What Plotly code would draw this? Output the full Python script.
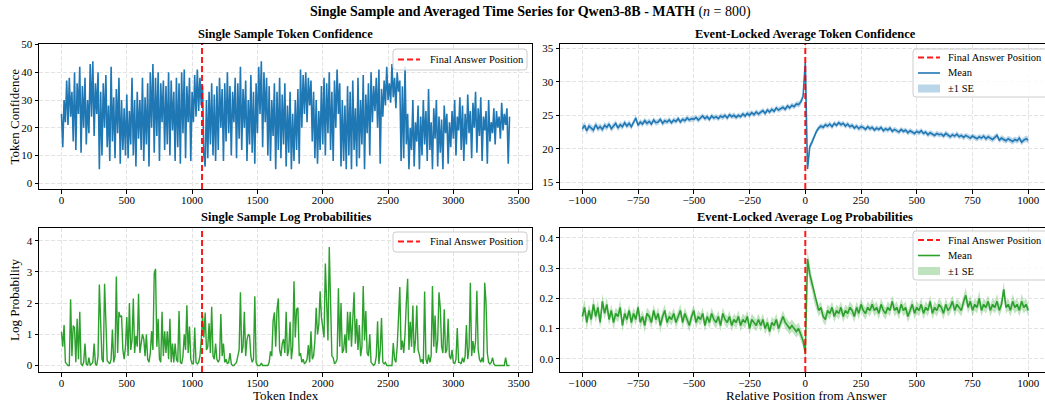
import numpy as np
import plotly.graph_objects as go

# ---------------- data ----------------
FINAL_ANSWER_TOKEN = 1076
FINAL_ANSWER_REL = 0

token_index = list(range(0, 3431, 10))

token_confidence = [
    25, 13, 30, 22, 37, 21, 38, 24, 33, 15,
    40, 12, 36, 25, 42, 11, 35, 20, 38, 14,
    30, 18, 43, 24, 44, 17, 36, 25, 40, 5,
    33, 10, 36, 20, 39, 13, 28, 8, 42, 15,
    31, 9, 34, 18, 38, 7, 30, 12, 27, 10,
    32, 9, 26, 14, 38, 10, 30, 6, 33, 16,
    30, 12, 38, 8, 31, 14, 36, 6, 40, 20,
    43, 11, 38, 17, 40, 8, 36, 22, 37, 12,
    35, 14, 40, 10, 37, 19, 33, 8, 38, 13,
    36, 7, 40, 18, 41, 9, 35, 22, 38, 8,
    33, 22, 39, 24, 41, 26, 38, 28, 35, 10,
    6, 30, 9, 33, 14, 36, 10, 32, 8, 35,
    12, 38, 20, 34, 8, 36, 15, 40, 18, 35,
    10, 33, 22, 38, 9, 36, 16, 42, 12, 34,
    20, 37, 8, 30, 14, 39, 11, 33, 7, 36,
    18, 42, 25, 44, 13, 40, 22, 38, 10, 35,
    8, 30, 17, 36, 5, 33, 12, 38, 9, 32,
    14, 36, 6, 28, 11, 33, 5, 25, 8, 30,
    12, 34, 7, 41, 20, 39, 25, 40, 22, 38,
    28, 37, 15, 33, 9, 30, 7, 26, 12, 35,
    14, 38, 10, 36, 18, 40, 12, 33, 8, 37,
    20, 41, 25, 36, 6, 30, 8, 28, 5, 35,
    10, 33, 5, 37, 12, 27, 6, 38, 9, 30,
    14, 39, 5, 32, 18, 36, 10, 40, 22, 35,
    26, 38, 20, 41, 7, 34, 24, 37, 28, 42,
    30, 36, 29, 43, 31, 38, 27, 40, 33, 37,
    8, 35, 9, 42, 14, 25, 5, 20, 12, 30,
    6, 22, 15, 28, 5, 24, 10, 30, 14, 26,
    8, 34, 12, 22, 5, 27, 16, 30, 6, 24,
    11, 23, 5, 28, 18, 25, 7, 22, 13, 26,
    16, 30, 10, 24, 19, 31, 12, 28, 8, 25,
    14, 32, 18, 26, 9, 29, 20, 33, 11, 27,
    17, 31, 8, 24, 19, 26, 7, 30, 15, 22,
    18, 27, 14, 26, 20, 24, 16, 29, 19, 25,
    21, 27, 7, 24,
]

log_probs = [
    1.08, 0.6, 1.3, 0.1, 0.05, 0.0, 0.0, 2.12, 0.3, 1.28,
    1.2, 0.1, 1.5, 0.2, 1.72, 0.05, 0.0, 0.1, 0.7, 0.05,
    0.0, 0.25, 0.0, 0.05, 0.1, 0.7, 0.05, 0.0, 0.3, 2.6,
    1.3, 0.2, 0.1, 2.62, 1.4, 0.15, 0.1, 0.05, 0.2, 1.15,
    0.1, 0.3, 2.85, 0.4, 1.72, 1.55, 1.6, 0.5, 0.2, 0.6,
    1.55, 0.3, 2.0, 0.5, 0.8, 2.15, 0.4, 0.95, 0.6, 2.3,
    0.4,
    0.7, 1.0, 0.85, 0.3, 1.0, 0.2, 0.1, 0.4, 1.1, 0.5,
    2.95, 3.1, 0.6, 1.5, 0.2, 0.1, 1.72, 0.3, 1.1, 0.4,
    1.1, 0.2, 1.5, 0.1, 0.7, 0.1, 0.7, 0.2, 0.1, 1.75,
    0.1, 0.05, 0.3, 1.0, 0.5, 1.93, 0.4, 1.25, 0.2, 0.05,
    0.05, 1.22, 0.1, 0.05, 0.1, 0.3, 0.8, 1.6, 0.9, 1.7,
    0.5, 0.6, 1.35, 0.4, 1.88, 0.3, 0.2, 0.7, 0.2, 0.1,
    0.2,
    1.65, 0.3, 0.7, 0.1, 0.2, 0.05, 0.1, 0.4, 0.05, 0.0,
    0.0, 0.05, 0.1, 0.3, 0.5, 2.35, 0.4, 0.6, 1.72, 0.3,
    0.82, 1.0, 0.95, 0.3, 0.1, 0.2, 2.22, 0.1, 0.0, 0.0,
    0.0, 0.08, 0.0, 0.0, 0.0, 0.0, 0.0, 0.1, 0.45, 0.3,
    1.42, 1.7, 0.6, 1.8, 2.15, 0.5, 0.3, 0.7, 0.85, 0.4,
    1.72, 0.3, 0.5, 1.4, 0.2, 0.6, 2.7, 0.9, 1.8, 1.85,
    0.3,
    0.4, 0.1, 0.2, 0.05, 0.1, 0.2, 0.65, 0.1, 1.1, 0.2,
    0.3, 0.8, 1.85, 1.0, 1.3, 2.38, 1.55, 1.2, 0.9, 3.27,
    2.25, 0.8, 3.8, 1.65, 0.3, 0.25, 0.05, 0.1, 0.2, 2.48,
    0.6, 2.0, 0.4, 0.5, 1.0, 0.4, 1.72, 0.8, 1.72, 0.6,
    1.6, 2.35, 0.7, 1.5, 0.5, 1.3, 0.3, 0.6, 2.55, 0.8,
    1.75, 0.4, 0.3, 1.0, 0.1, 0.05, 0.0, 0.05, 0.3, 1.42,
    0.05,
    0.5, 1.52, 0.1, 0.05, 0.1, 0.0, 0.0, 0.0, 0.0, 0.0,
    0.72, 0.2, 0.1, 0.6, 1.52, 2.52, 0.5, 0.8, 0.4, 1.0,
    2.02, 2.78, 0.5, 1.4, 0.6, 1.92, 0.4, 0.8, 1.92, 0.5,
    0.35, 0.1, 0.2, 0.05, 2.37, 0.2, 0.05, 0.35, 0.1, 0.3,
    2.55, 0.6, 1.6, 0.4, 0.8, 2.35, 1.85, 0.6, 0.4, 1.8,
    0.4,
    0.5, 1.5, 0.3, 0.2, 0.5, 0.1, 0.05, 0.2, 1.2, 0.1,
    0.1, 0.05, 0.25, 0.1, 0.3, 1.3, 0.2, 0.55, 2.65, 0.3,
    0.78, 0.4, 0.78, 2.4, 0.5, 0.2, 0.1, 0.25, 0.1, 2.65,
    2.02, 0.4, 0.1, 0.05, 0.1, 0.25, 0.05, 0.0, 0.0, 0.0,
    0.0, 0.0, 0.0, 0.0, 0.0, 0.25, 0.0, 0.0,
    0.0,
]

rel_position = list(range(-1000, 1001, 10))

conf_mean = [
    23.0, 23.5, 22.7, 23.4, 23.1, 22.8, 23.6, 23.0, 23.3, 22.9,
    23.5, 23.2, 23.7, 23.0, 23.4, 23.8, 23.1, 23.6, 23.3, 23.9,
    23.4, 23.8, 23.3, 23.9, 24.6, 23.5, 24.0, 23.7, 24.2, 23.8,
    24.1, 23.7, 24.3, 23.9, 24.0, 24.4, 23.8, 24.2, 24.0, 24.3,
    23.9, 24.3, 24.1, 24.5, 24.0, 24.4, 24.2, 24.6, 24.3, 24.5,
    24.4, 24.7, 24.3, 24.6, 24.9, 24.5, 24.8, 24.4, 24.9, 24.6,
    24.8, 24.5, 24.9, 24.7, 25.0, 24.6, 25.1, 24.8, 25.0, 24.7,
    25.0, 24.8, 25.2, 24.9, 25.3, 25.0, 25.4, 25.1, 25.5, 25.2,
    25.4, 25.7, 25.3, 25.8, 25.5, 25.9, 25.6, 26.1, 25.8, 26.0,
    26.2, 25.9, 26.4, 26.1, 26.5, 26.3, 26.7, 26.6, 27.0, 27.8,
    32.9,
    17.0, 20.3, 21.0, 21.9, 22.6, 23.1, 23.4, 23.2, 23.6, 23.4,
    23.7, 23.3, 23.8, 23.5, 23.9, 23.6, 23.8, 23.4, 23.7, 23.3,
    23.5, 23.1, 23.4, 23.0, 23.3, 23.2, 22.9, 23.3, 23.0, 23.2,
    22.8, 23.1, 22.9, 23.2, 22.7, 23.0, 22.8, 23.1, 22.6, 22.9,
    22.7, 22.5, 22.9, 22.6, 22.8, 22.4, 22.7, 22.5, 22.3, 22.6,
    22.4, 22.7, 22.3, 22.5, 22.1, 22.4, 22.2, 22.0, 22.3, 22.1,
    22.2, 21.9, 22.3, 22.0, 21.8, 22.1, 21.9, 22.2, 21.8, 22.0,
    21.7, 22.0, 21.8, 21.6, 21.9, 21.7, 21.5, 21.8, 21.6, 21.9,
    21.5, 21.8, 21.6, 21.4, 21.7, 22.0, 21.3, 21.6, 21.4, 21.2,
    21.5, 21.3, 21.1, 21.4, 21.2, 21.6, 21.0, 21.3, 21.5, 21.3,
]

conf_se = [
    0.55, 0.5, 0.55, 0.5, 0.5, 0.55, 0.5, 0.5, 0.5, 0.5,
    0.5, 0.5, 0.45, 0.5, 0.5, 0.45, 0.5, 0.45, 0.5, 0.45,
    0.45, 0.5, 0.45, 0.45, 0.5, 0.45, 0.45, 0.45, 0.45, 0.45,
    0.45, 0.45, 0.4, 0.45, 0.45, 0.4, 0.45, 0.45, 0.4, 0.45,
    0.4, 0.45, 0.4, 0.45, 0.4, 0.4, 0.45, 0.4, 0.4, 0.45,
    0.4, 0.4, 0.45, 0.4, 0.4, 0.4, 0.45, 0.4, 0.4, 0.4,
    0.4, 0.4, 0.4, 0.45, 0.4, 0.4, 0.4, 0.4, 0.45, 0.4,
    0.4, 0.4, 0.4, 0.4, 0.4, 0.45, 0.4, 0.4, 0.4, 0.4,
    0.4, 0.4, 0.4, 0.4, 0.4, 0.4, 0.4, 0.4, 0.4, 0.4,
    0.4, 0.4, 0.4, 0.4, 0.4, 0.4, 0.4, 0.45, 0.45, 0.5,
    0.6,
    0.55, 0.45, 0.45, 0.4, 0.4, 0.4, 0.4, 0.4, 0.4, 0.4,
    0.4, 0.4, 0.4, 0.4, 0.4, 0.4, 0.4, 0.4, 0.4, 0.4,
    0.4, 0.4, 0.4, 0.4, 0.4, 0.4, 0.4, 0.4, 0.4, 0.4,
    0.4, 0.4, 0.4, 0.4, 0.4, 0.4, 0.4, 0.4, 0.4, 0.4,
    0.4, 0.4, 0.4, 0.4, 0.4, 0.4, 0.4, 0.4, 0.4, 0.4,
    0.4, 0.4, 0.4, 0.4, 0.4, 0.4, 0.4, 0.4, 0.4, 0.4,
    0.4, 0.4, 0.45, 0.4, 0.4, 0.4, 0.4, 0.45, 0.4, 0.4,
    0.45, 0.4, 0.4, 0.45, 0.4, 0.4, 0.45, 0.4, 0.45, 0.4,
    0.45, 0.45, 0.4, 0.45, 0.45, 0.45, 0.4, 0.45, 0.45, 0.45,
    0.45, 0.45, 0.5, 0.45, 0.45, 0.5, 0.45, 0.45, 0.5, 0.5,
]

lp_mean = [
    0.14, 0.17, 0.12, 0.16, 0.13, 0.18, 0.14, 0.17, 0.12, 0.19,
    0.15, 0.18, 0.13, 0.16, 0.12, 0.15, 0.14, 0.17, 0.11, 0.15,
    0.13, 0.16, 0.12, 0.15, 0.13, 0.17, 0.12, 0.14, 0.11, 0.15,
    0.14, 0.12, 0.16, 0.13, 0.15, 0.11, 0.14, 0.16, 0.12, 0.14,
    0.13, 0.15, 0.12, 0.14, 0.16, 0.12, 0.15, 0.13, 0.11, 0.14,
    0.16, 0.12, 0.14, 0.13, 0.15, 0.11, 0.14, 0.12, 0.15, 0.13,
    0.12, 0.14, 0.11, 0.15, 0.13, 0.12, 0.14, 0.11, 0.13, 0.12,
    0.14, 0.11, 0.13, 0.12, 0.14, 0.10, 0.13, 0.12, 0.11, 0.13,
    0.11, 0.13, 0.10, 0.12, 0.09, 0.12, 0.11, 0.13, 0.10, 0.12,
    0.14, 0.12, 0.11, 0.10, 0.11, 0.10, 0.09, 0.10, 0.08, 0.06,
    0.02,
    0.33, 0.28, 0.25, 0.21, 0.18, 0.16, 0.17, 0.14, 0.13, 0.16,
    0.15, 0.17, 0.14, 0.16, 0.15, 0.17, 0.14, 0.16, 0.15, 0.17,
    0.16, 0.14, 0.17, 0.15, 0.18, 0.16, 0.15, 0.17, 0.16, 0.18,
    0.16, 0.17, 0.15, 0.18, 0.16, 0.15, 0.17, 0.16, 0.19, 0.16,
    0.17, 0.15, 0.18, 0.16, 0.17, 0.14, 0.16, 0.18, 0.15, 0.17,
    0.16, 0.18, 0.15, 0.17, 0.16, 0.19, 0.15, 0.17, 0.16, 0.18,
    0.17, 0.15, 0.18, 0.16, 0.17, 0.19, 0.16, 0.18, 0.17, 0.16,
    0.19, 0.21, 0.17, 0.19, 0.16, 0.18, 0.17, 0.20, 0.16, 0.18,
    0.17, 0.19, 0.16, 0.18, 0.17, 0.19, 0.16, 0.18, 0.23, 0.17,
    0.18, 0.16, 0.19, 0.17, 0.18, 0.16, 0.19, 0.17, 0.18, 0.16,
]

lp_se = [
    0.025, 0.025, 0.025, 0.02, 0.025, 0.025, 0.02, 0.025, 0.02, 0.025,
    0.02, 0.025, 0.02, 0.02, 0.025, 0.02, 0.02, 0.025, 0.02, 0.02,
    0.02, 0.02, 0.025, 0.02, 0.02, 0.02, 0.02, 0.02, 0.025, 0.02,
    0.02, 0.02, 0.02, 0.02, 0.02, 0.025, 0.02, 0.02, 0.02, 0.02,
    0.02, 0.02, 0.02, 0.02, 0.02, 0.02, 0.02, 0.02, 0.02, 0.02,
    0.02, 0.02, 0.02, 0.02, 0.02, 0.02, 0.02, 0.02, 0.02, 0.02,
    0.02, 0.02, 0.02, 0.02, 0.02, 0.02, 0.02, 0.02, 0.02, 0.02,
    0.02, 0.02, 0.02, 0.02, 0.02, 0.02, 0.02, 0.02, 0.02, 0.02,
    0.02, 0.02, 0.02, 0.02, 0.02, 0.02, 0.02, 0.02, 0.02, 0.02,
    0.02, 0.02, 0.02, 0.02, 0.02, 0.02, 0.02, 0.02, 0.02, 0.02,
    0.02,
    0.03, 0.03, 0.025, 0.025, 0.02, 0.02, 0.02, 0.02, 0.02, 0.02,
    0.02, 0.02, 0.02, 0.02, 0.02, 0.02, 0.02, 0.02, 0.02, 0.02,
    0.02, 0.02, 0.02, 0.02, 0.02, 0.02, 0.02, 0.02, 0.02, 0.02,
    0.02, 0.02, 0.02, 0.02, 0.02, 0.02, 0.02, 0.02, 0.02, 0.02,
    0.02, 0.02, 0.02, 0.02, 0.02, 0.02, 0.02, 0.02, 0.02, 0.02,
    0.02, 0.02, 0.02, 0.02, 0.02, 0.02, 0.02, 0.02, 0.02, 0.02,
    0.02, 0.02, 0.02, 0.02, 0.02, 0.02, 0.02, 0.02, 0.02, 0.02,
    0.02, 0.025, 0.02, 0.02, 0.02, 0.02, 0.02, 0.025, 0.02, 0.02,
    0.02, 0.02, 0.02, 0.02, 0.02, 0.025, 0.02, 0.02, 0.025, 0.02,
    0.02, 0.02, 0.025, 0.02, 0.02, 0.02, 0.025, 0.02, 0.02, 0.02,
]

token_ticks = [0, 500, 1000, 1500, 2000, 2500, 3000, 3500]
rel_ticks = [-1000, -750, -500, -250, 0, 250, 500, 750, 1000]
rel_tick_labels = ["\u22121000", "\u2212750", "\u2212500", "\u2212250", "0", "250", "500", "750", "1000"]
conf_ticks = [0, 10, 20, 30, 40, 50]
lp_ticks = [0, 1, 2, 3, 4]
avg_conf_ticks = [15, 20, 25, 30, 35]
avg_lp_ticks = [0.0, 0.1, 0.2, 0.3, 0.4]
avg_lp_tick_labels = ["0.0", "0.1", "0.2", "0.3", "0.4"]

LEGEND_ANSWER = "Final Answer Position"
LEGEND_MEAN = "Mean"
LEGEND_SE = "\u00b11 SE"

# ---------------- styling ----------------
W, H = 1045, 404
FONT = "Liberation Serif"
BLUE = "#1f77b4"
GREEN = "#2ca02c"
RED = "rgba(255,0,0,0.9)"
BLUE_FILL = "rgba(31,119,180,0.3)"
GREEN_FILL = "rgba(44,160,44,0.3)"


def px_x(p):
    return p / W


def px_y(p):
    return 1 - p / H


LEFT_X = [px_x(39), px_x(532)]
RIGHT_X = [px_x(560), 1.0]
TOP_Y = [px_y(189), px_y(44)]
BOT_Y = [px_y(372), px_y(228)]

fig = go.Figure()

fig.add_trace(go.Scatter(x=token_index, y=token_confidence, mode="lines",
                         line=dict(color=BLUE, width=1.6), showlegend=False,
                         xaxis="x", yaxis="y", hoverinfo="skip"))

fig.add_trace(go.Scatter(x=token_index, y=log_probs, mode="lines",
                         line=dict(color=GREEN, width=1.4), showlegend=False,
                         xaxis="x3", yaxis="y3", hoverinfo="skip"))


def add_band(mean, se, color_line, color_fill, xa, ya):
    m = np.array(mean)
    s = np.array(se)
    fig.add_trace(go.Scatter(x=rel_position, y=m - s, mode="lines",
                             line=dict(width=0, color=color_fill), showlegend=False,
                             xaxis=xa, yaxis=ya, hoverinfo="skip"))
    fig.add_trace(go.Scatter(x=rel_position, y=m + s, mode="lines", fill="tonexty",
                             fillcolor=color_fill, line=dict(width=0, color=color_fill),
                             showlegend=False, xaxis=xa, yaxis=ya, hoverinfo="skip"))
    fig.add_trace(go.Scatter(x=rel_position, y=m, mode="lines",
                             line=dict(color=color_line, width=1.6),
                             showlegend=False, xaxis=xa, yaxis=ya, hoverinfo="skip"))


add_band(conf_mean, conf_se, BLUE, BLUE_FILL, "x2", "y2")
add_band(lp_mean, lp_se, GREEN, GREEN_FILL, "x4", "y4")

for xa, ya, xv in [("x", "y", FINAL_ANSWER_TOKEN), ("x2", "y2", FINAL_ANSWER_REL),
                   ("x3", "y3", FINAL_ANSWER_TOKEN), ("x4", "y4", FINAL_ANSWER_REL)]:
    fig.add_shape(type="line", xref=xa, yref=ya + " domain", x0=xv, x1=xv, y0=0, y1=1,
                  line=dict(color=RED, width=2, dash="6px,3px"))

tickfont = dict(family=FONT, size=11, color="black")


def axis(domain, anchor, rng, tickvals, ticktext=None, mirror=True, is_x=True):
    d = dict(domain=domain, anchor=anchor, range=rng, tickvals=tickvals,
             showline=True, linecolor="black", linewidth=1, mirror=mirror,
             ticks="outside", ticklen=3.5, tickwidth=0.8, tickcolor="black",
             showgrid=True, gridcolor="#e3e3e3", gridwidth=0.8, griddash="4px,2px",
             zeroline=False, tickfont=tickfont, automargin=False)
    if is_x:
        d["ticklabelstandoff"] = -3
    if ticktext is not None:
        d["ticktext"] = ticktext
    return d


fig.update_layout(
    width=W, height=H, autosize=False,
    margin=dict(l=0, r=0, t=0, b=0, pad=0, autoexpand=False),
    paper_bgcolor="white", plot_bgcolor="white",
    font=dict(family=FONT, color="black"),
    showlegend=False,
    xaxis=axis(LEFT_X, "y", [-172, 3602], token_ticks),
    yaxis=axis(TOP_Y, "x", [-2.1, 50.2], conf_ticks, is_x=False),
    xaxis2=axis(RIGHT_X, "y2", [-1100, 1075], rel_ticks, rel_tick_labels),
    yaxis2=axis(TOP_Y, "x2", [14.0, 35.65], avg_conf_ticks, mirror=False, is_x=False),
    xaxis3=axis(LEFT_X, "y3", [-172, 3602], token_ticks),
    yaxis3=axis(BOT_Y, "x3", [-0.21, 4.41], lp_ticks, is_x=False),
    xaxis4=axis(RIGHT_X, "y4", [-1100, 1075], rel_ticks, rel_tick_labels),
    yaxis4=axis(BOT_Y, "x4", [-0.044, 0.433], avg_lp_ticks, avg_lp_tick_labels,
                mirror=False, is_x=False),
)

annotations = [
    dict(text="<b>Single Sample and Averaged Time Series for Qwen3-8B - MATH</b> (<i>n</i> = 800)",
         x=px_x(530), y=px_y(12), font=dict(size=14)),
    dict(text="<b>Single Sample Token Confidence</b>", x=px_x(285.5), y=px_y(34), font=dict(size=12.5)),
    dict(text="<b>Event-Locked Average Token Confidence</b>", x=px_x(805), y=px_y(34), font=dict(size=12.5)),
    dict(text="<b>Single Sample Log Probabilities</b>", x=px_x(285.5), y=px_y(217), font=dict(size=12.5)),
    dict(text="<b>Event-Locked Average Log Probabilities</b>", x=px_x(805), y=px_y(217), font=dict(size=12.5)),
    dict(text="Token Confidence", x=px_x(14), y=px_y(116.5), textangle=-90, font=dict(size=13)),
    dict(text="Log Probability", x=px_x(14), y=px_y(300), textangle=-90, font=dict(size=13)),
    dict(text="Token Index", x=px_x(285.5), y=px_y(395.5), font=dict(size=13)),
    dict(text="Relative Position from Answer", x=px_x(806), y=px_y(395.5), font=dict(size=13)),
]
for a in annotations:
    a.update(xanchor="center")

shapes_legend = []


def rounded_box(x0, x1, y0, y1, r=3):
    X0, X1, Y0, Y1 = px_x(x0), px_x(x1), px_y(y0), px_y(y1)
    rx, ry = r / W, r / H
    path = (f"M {X0 + rx} {Y0} L {X1 - rx} {Y0} Q {X1} {Y0} {X1} {Y0 - ry} "
            f"L {X1} {Y1 + ry} Q {X1} {Y1} {X1 - rx} {Y1} "
            f"L {X0 + rx} {Y1} Q {X0} {Y1} {X0} {Y1 + ry} "
            f"L {X0} {Y0 - ry} Q {X0} {Y0} {X0 + rx} {Y0} Z")
    return dict(type="path", xref="paper", yref="paper", path=path,
                fillcolor="rgba(255,255,255,0.8)", line=dict(color="#cccccc", width=1))


def legend(box, handle_x, text_x, rows):
    x0, x1, y0, y1 = box
    shapes_legend.append(rounded_box(x0, x1, y0, y1))
    for kind, label, color, yrow in rows:
        if kind == "patch":
            shapes_legend.append(dict(type="rect", xref="paper", yref="paper",
                                      x0=px_x(handle_x[0]), x1=px_x(handle_x[1]),
                                      y0=px_y(yrow + 4), y1=px_y(yrow - 4),
                                      fillcolor=color, line=dict(width=0)))
        else:
            shapes_legend.append(dict(type="line", xref="paper", yref="paper",
                                      x0=px_x(handle_x[0]), x1=px_x(handle_x[1]),
                                      y0=px_y(yrow), y1=px_y(yrow),
                                      line=dict(color=color, width=2 if kind == "dash" else 1.6,
                                                dash="6px,3px" if kind == "dash" else "solid")))
        annotations.append(dict(text=label, x=px_x(text_x), y=px_y(yrow), xanchor="left",
                                font=dict(size=10.5)))


legend((393, 527, 49, 70), (398, 420), 428, [("dash", LEGEND_ANSWER, RED, 59.5)])
legend((913, 1052, 49, 97), (918, 940), 946,
       [("dash", LEGEND_ANSWER, RED, 57.5), ("line", LEGEND_MEAN, BLUE, 73),
        ("patch", LEGEND_SE, BLUE_FILL, 88.5)])
legend((393, 527, 232, 252), (398, 420), 428, [("dash", LEGEND_ANSWER, RED, 241.5)])
legend((913, 1052, 231, 280), (918, 940), 946,
       [("dash", LEGEND_ANSWER, RED, 240), ("line", LEGEND_MEAN, GREEN, 255.5),
        ("patch", LEGEND_SE, GREEN_FILL, 271)])

for a in annotations:
    a.update(xref="paper", yref="paper", yanchor="middle", showarrow=False)
    a.setdefault("xanchor", "center")
    a["font"] = dict(family=FONT, color="black", **a["font"])

for s in shapes_legend:
    fig.add_shape(**s)
fig.update_layout(annotations=annotations)

fig.write_html("out.html")
